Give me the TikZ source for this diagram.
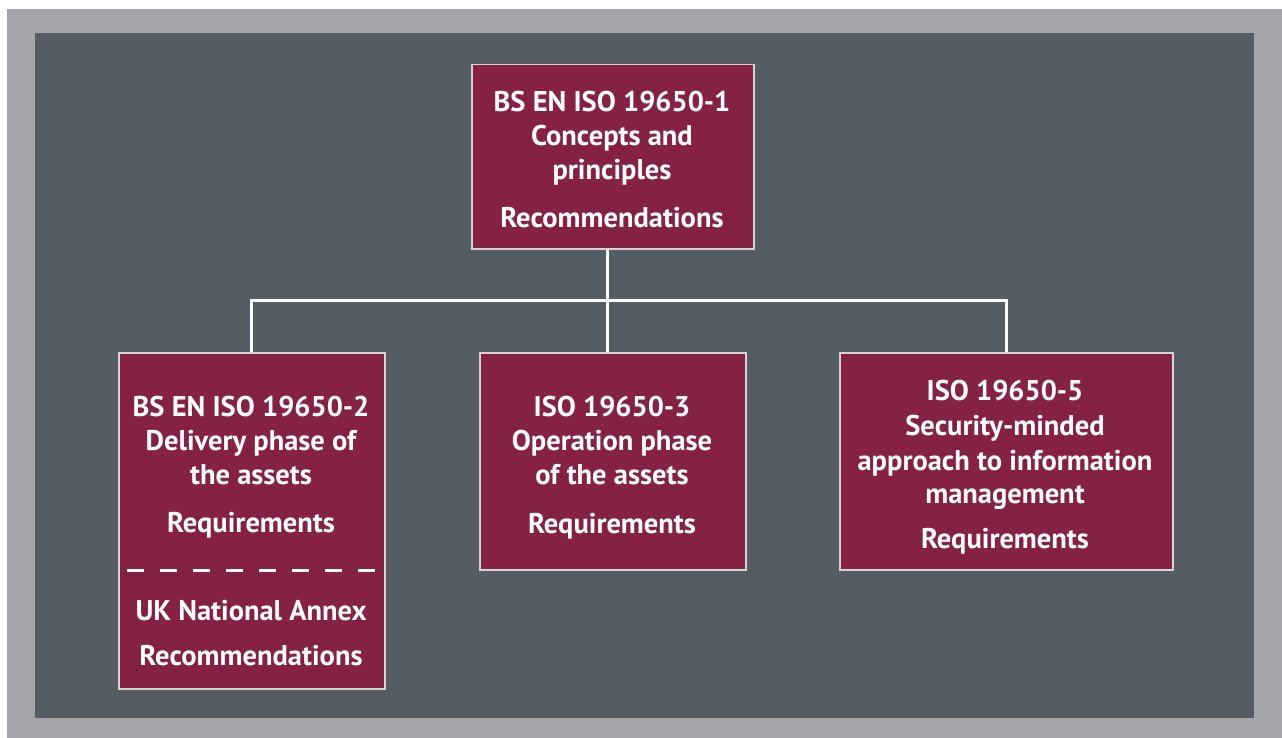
\documentclass[tikz,border=0pt]{standalone}
\usepackage{fontspec}
\setmainfont{PT Sans}
\definecolor{outergray}{HTML}{A4A5A9}
\definecolor{slate}{HTML}{535D63}
\definecolor{maroon}{HTML}{852142}
\definecolor{edgegray}{HTML}{D4D4D6}
\tikzset{
  box/.style={draw=edgegray, line width=1.5pt, fill=maroon, rectangle, inner sep=0pt, anchor=north west},
  lbl/.style={text=white, anchor=base, inner sep=0pt, font=\fontsize{28.5}{34}\selectfont\bfseries},
  conn/.style={draw=white, line width=3pt},
}
\begin{document}
\begin{tikzpicture}[x=1pt,y=-1pt]
\useasboundingbox (0,0) rectangle (1282,738);
\fill[outergray] (7,9) rectangle (1282,738);
\fill[slate] (35,33) rectangle (1254,718);
% boxes
\node[box, minimum width=282pt, minimum height=184pt] (top) at (471,64) {};
\node[box, minimum width=266pt, minimum height=336pt] (left) at (118,352) {};
\node[box, minimum width=266pt, minimum height=217pt] (mid) at (479,352) {};
\node[box, minimum width=333pt, minimum height=217pt] (right) at (839,352) {};
% connectors
\coordinate (topout) at ([xshift=-5pt]top.south);
\coordinate (midin) at ([xshift=-5pt]mid.north);
\coordinate (hub) at (topout |- 0,300);
\draw[conn] (topout) -- (hub);
\draw[conn] (left.north) |- (hub);
\draw[conn] (right.north) |- (hub);
\draw[conn] (hub) -- (midin);
% top text
\node[lbl] (t1) at (612,112) {BS EN ISO 19650-1};
\node[lbl] (t2) at (612,146) {Concepts and};
\node[lbl] (t3) at (612,180) {principles};
\node[lbl] (t4) at (612,228) {Recommendations};
% left text
\node[lbl] (l1) at (251,416) {BS EN ISO 19650-2};
\node[lbl] (l2) at (251,450) {Delivery phase of};
\node[lbl] (l3) at (251,484) {the assets};
\node[lbl] (l4) at (251,532) {Requirements};
\coordinate (da) at (127,570);
\coordinate (db) at (377,570);
\draw[white, line width=3pt, dash pattern=on 17pt off 16pt] (da) -- (db);
\node[lbl] (l5) at (251,620) {UK National Annex};
\node[lbl] (l6) at (251,665) {Recommendations};
% middle text
\node[lbl] (m1) at (612,416) {ISO 19650-3};
\node[lbl] (m2) at (612,450) {Operation phase};
\node[lbl] (m3) at (612,484) {of the assets};
\node[lbl] (m4) at (612,533) {Requirements};
% right text
\node[lbl] (r1) at (1005,400) {ISO 19650-5};
\node[lbl] (r2) at (1005,435) {Security-minded};
\node[lbl] (r3) at (1005,470) {approach to information};
\node[lbl] (r4) at (1005,503) {management};
\node[lbl] (r5) at (1005,548) {Requirements};
\end{tikzpicture}
\end{document}
